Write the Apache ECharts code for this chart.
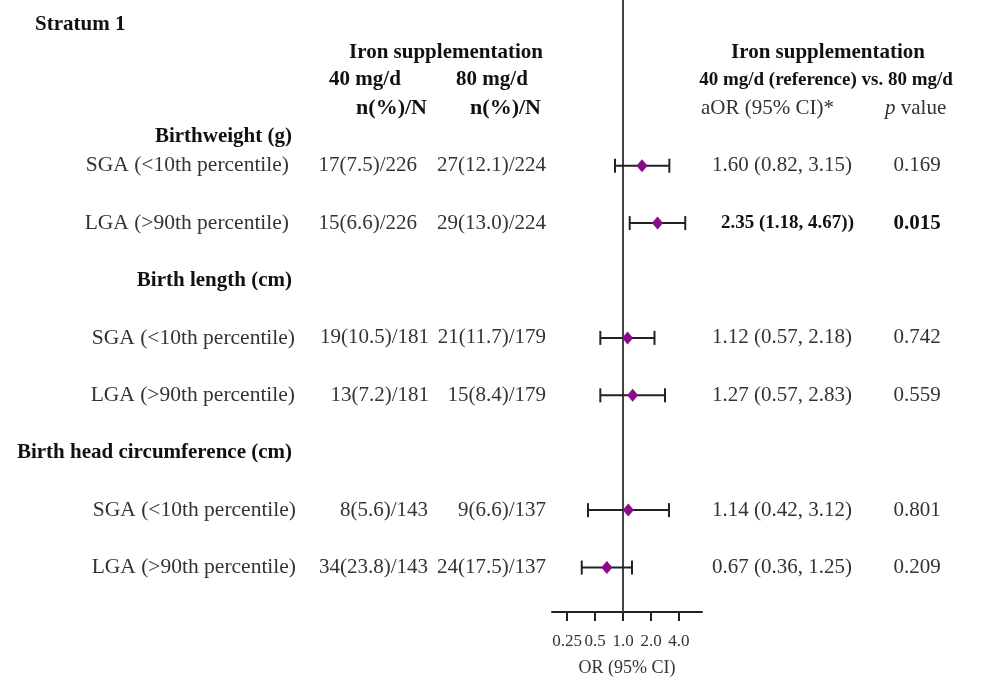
<!DOCTYPE html>
<html>
<head>
<meta charset="utf-8">
<script src="https://cdn.jsdelivr.net/npm/echarts@6/dist/echarts.min.js"></script>
<style>html,body{margin:0;padding:0;background:#fff}#chart{width:1000px;height:691px}</style>
</head>
<body>
<div id="chart"></div>
<script>
// ---------- DATA ----------
const groups = ['Birthweight (g)', 'Birth length (cm)', 'Birth head circumference (cm)'];
const categories = ['SGA (<10th percentile)', 'LGA (>90th percentile)',
                    'SGA (<10th percentile)', 'LGA (>90th percentile)',
                    'SGA (<10th percentile)', 'LGA (>90th percentile)'];
const n40 = ['17(7.5)/226', '15(6.6)/226', '19(10.5)/181', '13(7.2)/181', '8(5.6)/143', '34(23.8)/143'];
const n80 = ['27(12.1)/224', '29(13.0)/224', '21(11.7)/179', '15(8.4)/179', '9(6.6)/137', '24(17.5)/137'];
const aor = [1.60, 2.35, 1.12, 1.27, 1.14, 0.67];
const ciLow = [0.82, 1.18, 0.57, 0.57, 0.42, 0.36];
const ciHigh = [3.15, 4.67, 2.18, 2.83, 3.12, 1.25];
const aorText = ['1.60 (0.82, 3.15)', '2.35 (1.18, 4.67))', '1.12 (0.57, 2.18)', '1.27 (0.57, 2.83)', '1.14 (0.42, 3.12)', '0.67 (0.36, 1.25)'];
const pValues = ['0.169', '0.015', '0.742', '0.559', '0.801', '0.209'];
const tickValues = [0.25, 0.5, 1, 2, 4];
const tickLabels = ['0.25', '0.5', '1.0', '2.0', '4.0'];

// ---------- LAYOUT (row slots on the vertical axis, column edges) ----------
const headSlot = [0, 2.5, 5.5];
const rowSlot = [0.5, 1.5, 3.5, 4.5, 6.5, 7.5];
const labelRight = [289, 289, 295, 295, 296, 296];
const n40Right = [417, 417, 429, 429, 428, 428];

const FONT = "'Liberation Serif', 'Times New Roman', serif";
const REG = '#333';
const BOLD = '#111';

const chart = echarts.init(document.getElementById('chart'), null, {renderer: 'canvas'});

function txt(x, y, text, align, opts) {
  return {
    type: 'text',
    style: Object.assign({
      x: x, y: y, text: text, align: align, verticalAlign: 'middle',
      fontFamily: FONT, fontSize: 21, fill: REG
    }, opts || {})
  };
}

// table rows: [slot, kind, index]; kind 0 = heading, 1 = data row
const tableData = [];
groups.forEach((g, i) => tableData.push([headSlot[i], 0, i]));
categories.forEach((c, i) => tableData.push([rowSlot[i], 1, i]));

const option = {
  animation: false,
  backgroundColor: '#fff',
  graphic: [
    txt(35, 25, 'Stratum 1', 'left', {fontWeight: 'bold', fill: BOLD}),
    txt(446, 53, 'Iron supplementation', 'center', {fontWeight: 'bold', fill: BOLD}),
    txt(365, 80, '40 mg/d', 'center', {fontWeight: 'bold', fill: BOLD}),
    txt(492, 80, '80 mg/d', 'center', {fontWeight: 'bold', fill: BOLD}),
    txt(427, 108, 'n(%)/N', 'right', {fontWeight: 'bold', fill: BOLD, fontSize: 22}),
    txt(541, 108, 'n(%)/N', 'right', {fontWeight: 'bold', fill: BOLD, fontSize: 22}),
    txt(828, 53, 'Iron supplementation', 'center', {fontWeight: 'bold', fill: BOLD}),
    txt(826, 80, '40 mg/d (reference) vs. 80 mg/d', 'center', {fontWeight: 'bold', fill: BOLD, fontSize: 19}),
    txt(701, 108, 'aOR (95% CI)*', 'left', {fontSize: 21}),
    {
      type: 'text',
      style: {
        x: 885, y: 108, verticalAlign: 'middle', align: 'left',
        text: '{i|p} value',
        fontFamily: FONT, fontSize: 21, fill: REG,
        rich: {i: {fontStyle: 'italic', fontFamily: FONT, fontSize: 21, fill: REG}}
      }
    }
  ],
  grid: {left: 552, width: 150, top: 0, height: 612, containLabel: false},
  xAxis: {
    type: 'log',
    logBase: 2,
    min: 0.1723,
    max: 7.07,
    position: 'bottom',
    name: 'OR (95% CI)',
    nameLocation: 'middle',
    nameGap: 47,
    nameTextStyle: {fontFamily: FONT, fontSize: 18, color: REG},
    axisLine: {show: true, onZero: false, lineStyle: {color: '#222', width: 2}},
    axisTick: {show: true, length: 9, lineStyle: {color: '#222', width: 2}, customValues: tickValues},
    axisLabel: {
      show: true, margin: 21, fontFamily: FONT, fontSize: 17, color: REG,
      customValues: tickValues,
      formatter: v => tickLabels[tickValues.indexOf(+(+v).toFixed(4))] || String(v)
    },
    splitLine: {show: false},
    minorTick: {show: false}
  },
  yAxis: {
    type: 'value', inverse: true, min: -2.387, max: 8.275, show: false
  },
  series: [
    {
      type: 'custom',
      name: 'table',
      data: tableData,
      encode: {x: -1, y: 0},
      renderItem: function (params, api) {
        const slot = api.value(0);
        const kind = api.value(1);
        const i = api.value(2);
        const y = api.coord([1, slot])[1];
        if (kind === 0) {
          return {type: 'group', children: [
            txt(292, y, groups[i], 'right', {fontWeight: 'bold', fill: BOLD})
          ]};
        }
        const sig = parseFloat(pValues[i]) < 0.05;
        return {type: 'group', children: [
          txt(labelRight[i], y, categories[i], 'right', {fontSize: 21.5}),
          txt(n40Right[i], y, n40[i], 'right'),
          txt(546, y, n80[i], 'right'),
          sig ? txt(721, y, aorText[i], 'left', {fontWeight: 'bold', fill: BOLD, fontSize: 19})
              : txt(712, y, aorText[i], 'left'),
          txt(917, y, pValues[i], 'center', sig ? {fontWeight: 'bold', fill: BOLD} : {})
        ]};
      },
      silent: true,
      z: 1
    },
    {
      type: 'custom',
      name: 'ci',
      data: categories.map((c, i) => [ciLow[i], ciHigh[i], rowSlot[i]]),
      encode: {x: [0, 1], y: 2},
      renderItem: function (params, api) {
        const p1 = api.coord([api.value(0), api.value(2)]);
        const p2 = api.coord([api.value(1), api.value(2)]);
        const st = {stroke: '#222', lineWidth: 2};
        return {type: 'group', children: [
          {type: 'line', shape: {x1: p1[0], y1: p1[1], x2: p2[0], y2: p2[1]}, style: st},
          {type: 'line', shape: {x1: p1[0], y1: p1[1] - 7, x2: p1[0], y2: p1[1] + 7}, style: st},
          {type: 'line', shape: {x1: p2[0], y1: p2[1] - 7, x2: p2[0], y2: p2[1] + 7}, style: st}
        ]};
      },
      silent: true,
      z: 3
    },
    {
      type: 'scatter',
      name: 'aOR',
      data: categories.map((c, i) => [aor[i], rowSlot[i]]),
      symbol: 'diamond',
      symbolSize: [11, 13],
      itemStyle: {color: '#8a0a8a', opacity: 1},
      silent: true,
      z: 4,
      markLine: {
        silent: true,
        symbol: ['none', 'none'],
        label: {show: false},
        lineStyle: {color: '#444', width: 2, type: 'solid'},
        data: [{xAxis: 1}],
        z: 2
      }
    }
  ]
};
chart.setOption(option);
</script>
</body>
</html>
